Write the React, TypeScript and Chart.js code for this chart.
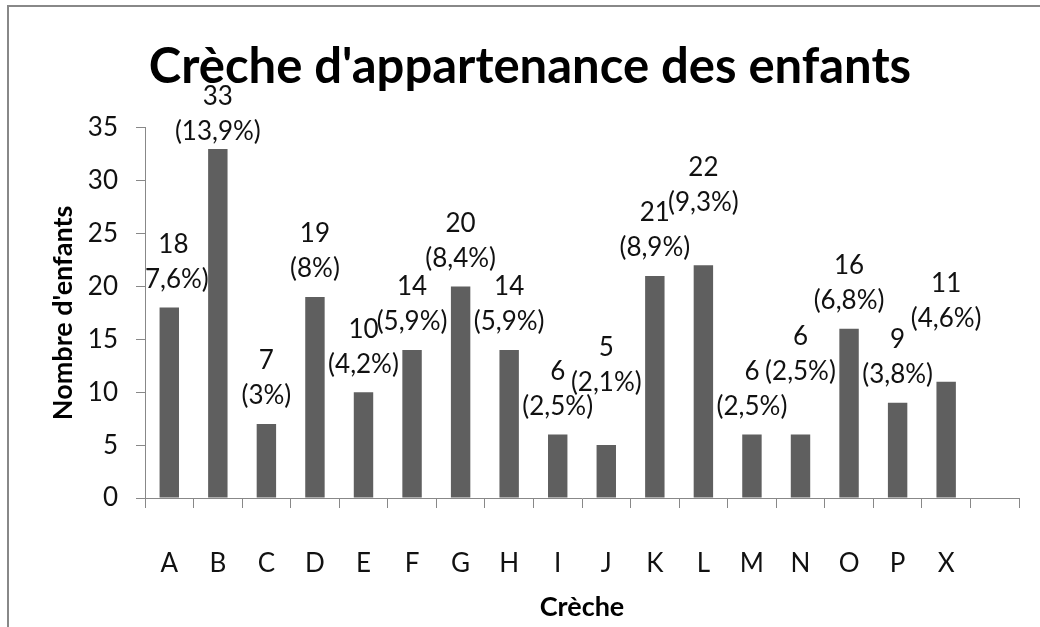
import React, { useEffect, useRef } from "react";
import { Chart, registerables } from "chart.js";

Chart.register(...registerables);

const categories = ["A", "B", "C", "D", "E", "F", "G", "H", "I", "J", "K", "L", "M", "N", "O", "P", "X", ""];
const counts: (number | null)[] = [18, 33, 7, 19, 10, 14, 20, 14, 6, 5, 21, 22, 6, 6, 16, 9, 11, null];
const percents = ["7,6%", "13,9%", "3%", "8%", "4,2%", "5,9%", "8,4%", "5,9%", "2,5%", "2,1%", "8,9%", "9,3%", "2,5%", "2,5%", "6,8%", "3,8%", "4,6%", ""];
const yTicks = [0, 5, 10, 15, 20, 25, 30, 35];

const titleText = "Crèche d'appartenance des enfants";
const xTitle = "Crèche";
const yTitle = "Nombre d'enfants";

const FONT = "Lato, 'Noto Sans', sans-serif";
const AXIS_COLOR = "#888888";
const BAR_COLOR = "#5f5f5f";

type Line = { x0: number; x1: number; y: number };

const labelPlugin = {
  id: "barLabels",
  afterDatasetsDraw(chart: any) {
    const { ctx, chartArea } = chart;
    const meta = chart.getDatasetMeta(0);
    ctx.save();
    ctx.beginPath();
    ctx.rect(chartArea.left, 0, chart.width - chartArea.left, chart.height);
    ctx.clip();
    ctx.font = `26px ${FONT}`;
    ctx.fillStyle = "#111111";
    ctx.textAlign = "center";
    ctx.textBaseline = "middle";
    const LINE = 35;
    const placed: Line[] = [];
    meta.data.forEach((bar: any, i: number) => {
      const v = counts[i];
      if (v === null || v === undefined) return;
      const l1 = String(v);
      const l2 = `(${percents[i]})`;
      const w1 = ctx.measureText(l1).width;
      const w2 = ctx.measureText(l2).width;
      const w = Math.max(w1, w2);
      let y1 = bar.y - 63;
      if (y1 < chartArea.top - 31) y1 = chartArea.top - 31;
      let cx = bar.x;
      if (cx - w / 2 < chartArea.left - 7) cx = chartArea.left - 7 + w / 2;
      const collides = (yy: number) => {
        const mine: Line[] = [
          { x0: cx - w1 / 2, x1: cx + w1 / 2, y: yy },
          { x0: cx - w2 / 2, x1: cx + w2 / 2, y: yy + LINE },
        ];
        return mine.some((m) =>
          placed.some(
            (p) => Math.abs(p.y - m.y) < 22 && Math.min(p.x1, m.x1) - Math.max(p.x0, m.x0) > 6
          )
        );
      };
      let guard = 0;
      while (collides(y1) && guard < 5) {
        y1 -= LINE;
        guard++;
      }
      const y2 = y1 + LINE;
      placed.push({ x0: cx - w1 / 2, x1: cx + w1 / 2, y: y1 });
      placed.push({ x0: cx - w2 / 2, x1: cx + w2 / 2, y: y2 });
      ctx.fillText(l1, cx, y1);
      ctx.fillText(l2, cx, y2);
    });
    ctx.restore();
  },
};

export default function App() {
  const ref = useRef<HTMLCanvasElement | null>(null);
  useEffect(() => {
    if (!ref.current) return;
    const chart = new Chart(ref.current, {
      type: "bar",
      data: {
        labels: categories,
        datasets: [
          {
            data: counts,
            backgroundColor: BAR_COLOR,
            borderWidth: 0,
            barPercentage: 0.4,
            categoryPercentage: 1,
          },
        ],
      },
      options: {
        responsive: false,
        animation: false,
        devicePixelRatio: 1,
        layout: { padding: { left: 41, right: 21, top: 0, bottom: 0 } },
        plugins: {
          legend: { display: false },
          tooltip: { enabled: false },
          title: {
            display: true,
            text: titleText,
            color: "#000000",
            font: { family: FONT, size: 49, weight: "bold", lineHeight: 1.2 },
            padding: { top: 38, bottom: 31 },
          },
        },
        scales: {
          x: {
            afterFit(scale: any) {
              scale.height = 129;
            },
            grid: {
              display: true,
              drawOnChartArea: false,
              drawTicks: true,
              tickLength: 10,
              color: AXIS_COLOR,
              offset: true,
            },
            border: { display: true, color: AXIS_COLOR, width: 1 },
            ticks: {
              color: "#111111",
              font: { family: FONT, size: 26 },
              padding: 40,
              maxRotation: 0,
              autoSkip: false,
            },
            title: {
              display: true,
              text: xTitle,
              color: "#000000",
              font: { family: FONT, size: 27, weight: "bold", lineHeight: 1.2 },
              padding: { top: 0, bottom: 4 },
            },
          },
          y: {
            min: 0,
            max: 35,
            afterFit(scale: any) {
              scale.width = 104;
            },
            afterBuildTicks(scale: any) {
              scale.ticks = yTicks.map((v) => ({ value: v }));
            },
            grid: {
              display: true,
              drawOnChartArea: false,
              drawTicks: true,
              tickLength: 9,
              color: AXIS_COLOR,
            },
            border: { display: true, color: AXIS_COLOR, width: 1 },
            ticks: {
              color: "#111111",
              font: { family: FONT, size: 26 },
              padding: 18,
            },
            title: {
              display: true,
              text: yTitle,
              color: "#000000",
              font: { family: FONT, size: 27, weight: "bold", lineHeight: 1.2 },
              padding: { top: 6, bottom: 0 },
            },
          },
        },
      },
      plugins: [labelPlugin],
    });
    return () => chart.destroy();
  }, []);

  return (
    <>
      <div
        style={{
          position: "absolute",
          left: 7,
          top: 5,
          width: 1033,
          height: 622,
          borderTop: "2px solid #888888",
          borderLeft: "2px solid #888888",
          boxSizing: "border-box",
        }}
      />
      <canvas
        ref={ref}
        width={1040}
        height={627}
        style={{ position: "absolute", left: 0, top: 0, width: 1040, height: 627, display: "block" }}
      />
    </>
  );
}
